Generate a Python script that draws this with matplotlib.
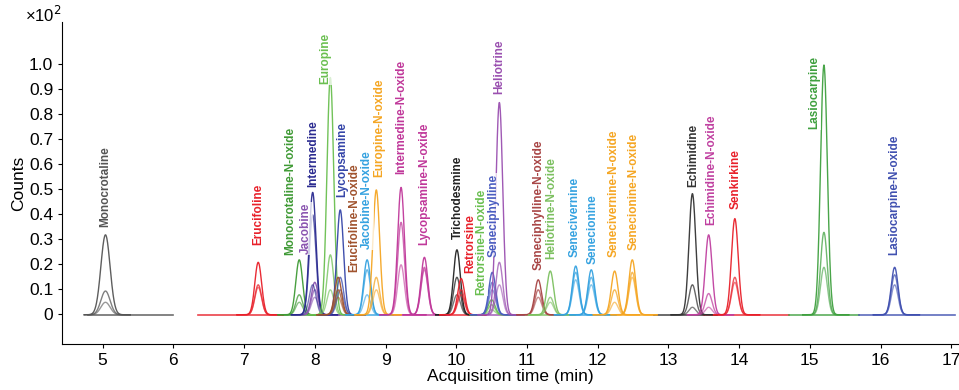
import numpy as np
import matplotlib
matplotlib.use("Agg")
import matplotlib.pyplot as plt

plt.rcParams['font.family'] = ['Liberation Sans', 'DejaVu Sans']

# compounds: name, retention time (min), peak heights of the traces (x10^2 counts)
names = ["Monocrotaline", "Erucifoline", "Monocrotaline-N-oxide", "Jacobine", "Intermedine",
         "Europine", "Lycopsamine", "Erucifoline-N-oxide", "Jacobine-N-oxide", "Europine-N-oxide",
         "Intermedine-N-oxide", "Lycopsamine-N-oxide", "Trichodesmine", "Retrorsine",
         "Retrorsine-N-oxide", "Seneciphylline", "Heliotrine", "Seneciphylline-N-oxide",
         "Heliotrine-N-oxide", "Senecivernine", "Senecionine", "Senecivernine-N-oxide",
         "Senecionine-N-oxide", "Echimidine", "Echimidine-N-oxide", "Senkirkine",
         "Lasiocarpine", "Lasiocarpine-N-oxide"]
rts = [5.04, 7.20, 7.78, 8.00, 7.97, 8.22, 8.36, 8.33, 8.74, 8.87, 9.22, 9.55, 10.01, 10.07,
       10.50, 10.51, 10.61, 11.16, 11.33, 11.69, 11.91, 12.24, 12.49, 13.34, 13.57, 13.94,
       15.20, 16.20]
h_high = [0.32, 0.21, 0.22, 0.13, 0.49, 0.95, 0.42, 0.15, 0.22, 0.50, 0.51, 0.23, 0.26, 0.145,
          0.06, 0.17, 0.85, 0.14, 0.175, 0.195, 0.18, 0.175, 0.22, 0.485, 0.32, 0.385, 1.00, 0.19]
h_mid = [0.095, 0.12, 0.08, 0.10, 0.40, 0.24, 0.15, 0.10, 0.18, 0.15, 0.37, 0.19, 0.15, 0.10,
         0.04, 0.13, 0.21, 0.10, 0.07, 0.17, 0.15, 0.10, 0.17, 0.12, 0.085, 0.15, 0.33, 0.16]
h_low = [0.05, 0.11, 0.05, 0.07, 0.12, 0.10, 0.10, 0.07, 0.08, 0.10, 0.20, 0.18, 0.08, 0.08,
         0.02, 0.10, 0.12, 0.07, 0.05, 0.14, 0.12, 0.05, 0.15, 0.03, 0.03, 0.13, 0.19, 0.12]
colors = ["#555555", "#e8202a", "#3f9a35", "#8a55b0", "#2a2a90", "#6abf50", "#3545a8",
          "#a0522d", "#35a2e0", "#f5a623", "#c0389a", "#c0389a", "#222222", "#e8202a",
          "#6abf50", "#4a5cc0", "#9a50b0", "#a84545", "#7cc060", "#35a2e0", "#35a2e0",
          "#f5a623", "#f5a623", "#333333", "#c040a0", "#e8202a", "#3fa03f", "#4050b0"]
label_x = [5.04, 7.20, 7.65, 7.88, 7.98, 8.15, 8.39, 8.56, 8.74, 8.91, 9.22, 9.55, 10.03, 10.20,
           10.36, 10.53, 10.61, 11.16, 11.34, 11.67, 11.93, 12.23, 12.51, 13.35, 13.60, 13.95,
           15.06, 16.20]
label_y = [0.35, 0.275, 0.235, 0.24, 0.51, 0.92, 0.47, 0.17, 0.26, 0.55, 0.56, 0.275, 0.30,
           0.165, 0.075, 0.23, 0.88, 0.175, 0.22, 0.23, 0.20, 0.23, 0.255, 0.51, 0.355, 0.42,
           0.74, 0.235]

# coloured baseline pieces between peaks: start, end, colour
base_start = [4.80, 6.35, 7.55, 8.10, 8.60, 9.10, 9.90, 10.40, 10.90, 11.50, 12.10, 12.80, 13.50, 14.70, 15.70]
base_end = [6.00, 7.55, 8.10, 8.60, 9.10, 9.90, 10.40, 10.90, 11.50, 12.10, 12.80, 13.50, 14.70, 15.70, 17.05]
base_col = ["#555555", "#e8202a", "#3f9a35", "#8a55b0", "#35a2e0", "#c0389a", "#e8202a",
            "#9a50b0", "#7cc060", "#35a2e0", "#f5a623", "#333333", "#e8202a", "#3fa03f", "#4050b0"]

fig = plt.figure(figsize=(9.59, 3.9), dpi=100)
ax = fig.add_axes([0.065, 0.118, 0.935, 0.826])

for s, e, c in zip(base_start, base_end, base_col):
    ax.plot([s, e], [-0.003, -0.003], color=c, lw=1.2, alpha=0.85)

for i in range(len(names)):
    sig = 0.065 if i == 0 else 0.048
    x = np.linspace(rts[i] - 0.3, rts[i] + 0.35, 200)
    for h, a in zip([h_high[i], h_mid[i], h_low[i]], [0.95, 0.75, 0.6]):
        y = h * np.exp(-0.5 * ((x - rts[i]) / sig) ** 2) - 0.003
        ax.plot(x, y, color=colors[i], lw=1.0, alpha=a)
    ax.text(label_x[i], label_y[i], names[i], rotation=90, ha="center", va="bottom",
            color=colors[i], fontsize=8.5, fontweight="bold",
            bbox=dict(facecolor="white", edgecolor="none", alpha=0.75, pad=0.5))

ax.set_xlim(4.43, 17.11)
ax.set_ylim(-0.12, 1.17)
ax.set_xticks(range(5, 18))
ax.set_yticks(np.arange(0, 1.01, 0.1))
ax.set_yticklabels(["0"] + ["%.1f" % v for v in np.arange(0.1, 1.01, 0.1)])
ax.tick_params(labelsize=12.5, length=3)
ax.spines["top"].set_visible(False)
ax.spines["right"].set_visible(False)
ax.set_xlabel("Acquisition time (min)", fontsize=12.5, labelpad=1)
ax.set_ylabel("Counts", fontsize=12.5, labelpad=2)
fig.text(0.026, 0.935, "×10$^2$", fontsize=12, va="bottom")

fig.savefig("out.png", dpi=100)
